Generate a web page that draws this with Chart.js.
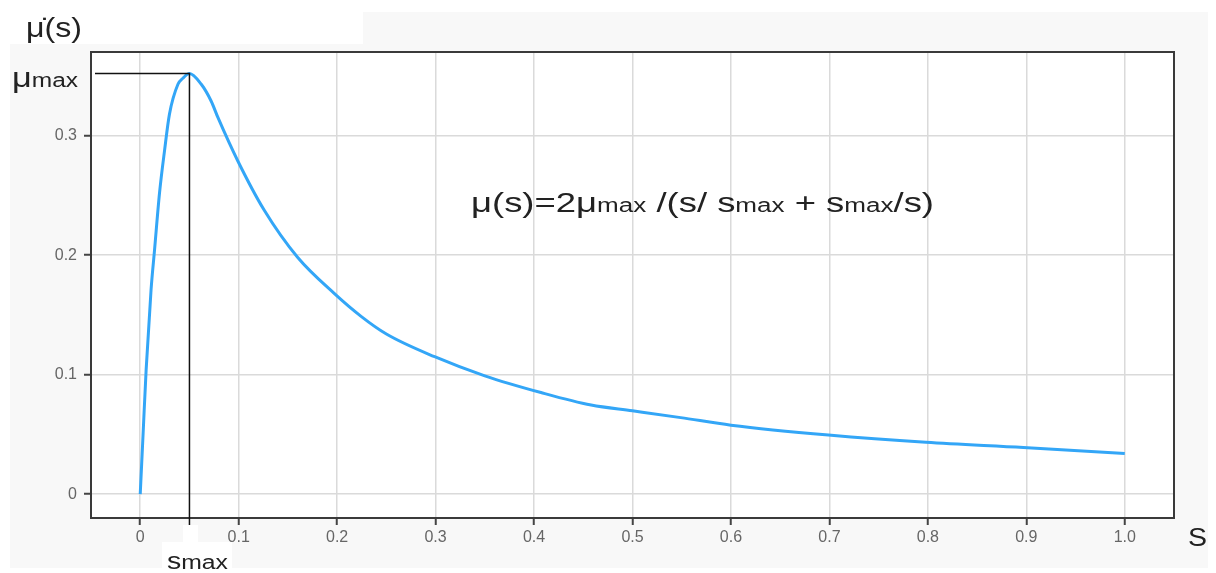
<!DOCTYPE html>
<html>
<head>
<meta charset="utf-8">
<script src="https://cdn.jsdelivr.net/npm/chart.js@4/dist/chart.umd.min.js"></script>
<style>
  html, body { margin: 0; padding: 0; background: #ffffff; }
  #chart { display: block; }
</style>
</head>
<body>
<canvas id="chart" width="1216" height="573"></canvas>
<script>
// curve points: s on x, mu on y
const sValues = [0, 0.003, 0.006, 0.011, 0.0145, 0.0196, 0.0247, 0.0297, 0.0383, 0.0433, 0.05,
  0.062, 0.072, 0.079, 0.099, 0.126, 0.16, 0.197, 0.224, 0.25, 0.299, 0.35, 0.407, 0.458,
  0.5, 0.549, 0.6, 0.699, 0.798, 0.897, 1.0];
const muValues = [0, 0.052, 0.104, 0.171, 0.204, 0.252, 0.2875, 0.318, 0.343, 0.348, 0.352,
  0.343, 0.329, 0.315, 0.279, 0.2375, 0.198, 0.168, 0.149, 0.134, 0.115, 0.099, 0.085, 0.0745,
  0.0697, 0.064, 0.0577, 0.0494, 0.0433, 0.039, 0.034];

// peak marker
const sMax = 0.05;
const muMax = 0.352;

// axes
const xTicks = [0, 0.1, 0.2, 0.3, 0.4, 0.5, 0.6, 0.7, 0.8, 0.9, 1.0];
const xTickLabels = ["0", "0.1", "0.2", "0.3", "0.4", "0.5", "0.6", "0.7", "0.8", "0.9", "1.0"];
const yTicks = [0, 0.1, 0.2, 0.3];
const yTickLabels = ["0", "0.1", "0.2", "0.3"];
const xRange = [-0.05, 1.05];
const yRange = [-0.02, 0.37];

const points = sValues.map((s, i) => ({ x: s, y: muValues[i] }));

Chart.defaults.font.family = "'Liberation Sans', Arial, sans-serif";

const FONT = "'Liberation Sans', Arial, sans-serif";

// draw a row of text pieces with different sizes on one baseline,
// stretched sideways to fill the given width
function drawRuns(ctx, x, baseline, runs, width, color) {
  let natural = 0;
  runs.forEach(([text, size]) => {
    ctx.font = size + "px " + FONT;
    natural += ctx.measureText(text).width;
  });
  const k = width ? width / natural : 1;
  ctx.save();
  ctx.translate(x, baseline);
  ctx.scale(k, 1);
  ctx.fillStyle = color;
  ctx.textBaseline = "alphabetic";
  ctx.textAlign = "left";
  let cx = 0;
  runs.forEach(([text, size]) => {
    ctx.font = size + "px " + FONT;
    ctx.fillText(text, cx, 0);
    cx += ctx.measureText(text).width;
  });
  ctx.restore();
}

const backdrop = {
  id: "backdrop",
  beforeDraw(chart) {
    const ctx = chart.ctx;
    const a = chart.chartArea;
    ctx.save();
    ctx.fillStyle = "#ffffff";
    ctx.fillRect(0, 0, chart.width, chart.height);
    ctx.fillStyle = "#f8f8f8";
    ctx.fillRect(10, 12, 1198, 556);
    ctx.fillStyle = "#ffffff";
    ctx.fillRect(0, 0, 363, 44);
    ctx.fillRect(a.left, a.top, a.right - a.left, a.bottom - a.top);
    // white patch behind the s_max label
    ctx.fillRect(162, 542, 70, 31);
    ctx.fillRect(183, 525, 15, 17);
    ctx.restore();
  }
};

const annotations = {
  id: "annotations",
  afterDraw(chart) {
    const ctx = chart.ctx;
    const a = chart.chartArea;
    const xs = chart.scales.x;
    const ys = chart.scales.y;
    ctx.save();

    // frame around the plot
    ctx.strokeStyle = "#3a3a3a";
    ctx.lineWidth = 2;
    ctx.strokeRect(a.left, a.top, a.right - a.left, a.bottom - a.top);

    // mu_max / s_max guide lines
    const px = xs.getPixelForValue(sMax);
    const py = ys.getPixelForValue(muMax);
    ctx.strokeStyle = "#111111";
    ctx.lineWidth = 1.5;
    ctx.beginPath();
    ctx.moveTo(a.left + 4, py);
    ctx.lineTo(px, py);
    ctx.lineTo(px, a.bottom + 7);
    ctx.stroke();

    const ink = "#222222";
    // y axis title
    drawRuns(ctx, 26, 37, [["\u03bc\u0307(s)", 27]], 56, ink);
    // mu_max label
    drawRuns(ctx, 12, 87, [["\u03bc", 28], ["max", 20]], 66, ink);
    // s_max label
    drawRuns(ctx, 167, 569, [["s", 23], ["max", 20]], 61, ink);
    // x axis title
    drawRuns(ctx, 1188, 546, [["S", 25]], 19, ink);
    // formula
    drawRuns(ctx, 471, 212, [
      ["\u03bc(s)=2\u03bc", 28], ["max", 20], [" /(s/ s", 28], ["max", 20],
      [" + s", 28], ["max", 20], ["/s)", 28]
    ], 463, ink);

    ctx.restore();
  }
};

new Chart(document.getElementById("chart"), {
  type: "scatter",
  data: {
    datasets: [{
      data: points,
      showLine: true,
      borderColor: "#33a6f7",
      borderWidth: 3,
      pointRadius: 0,
      cubicInterpolationMode: "monotone",
      fill: false
    }]
  },
  options: {
    responsive: false,
    animation: false,
    layout: { padding: { left: 0, top: 52, right: 42, bottom: 0 } },
    plugins: {
      legend: { display: false },
      tooltip: { enabled: false }
    },
    scales: {
      x: {
        type: "linear",
        min: xRange[0],
        max: xRange[1],
        afterBuildTicks: (scale) => { scale.ticks = xTicks.map((v) => ({ value: v })); },
        afterFit: (scale) => { scale.height = 55; },
        ticks: {
          callback: (v, i) => xTickLabels[i],
          color: "#666666",
          font: { size: 16 },
          padding: 3,
          maxRotation: 0,
          autoSkip: false
        },
        grid: { color: "#dadada", lineWidth: 1.5, tickColor: "#444444", tickLength: 7, tickWidth: 2 },
        border: { display: false }
      },
      y: {
        type: "linear",
        min: yRange[0],
        max: yRange[1],
        afterBuildTicks: (scale) => { scale.ticks = yTicks.map((v) => ({ value: v })); },
        afterFit: (scale) => { scale.width = 91; },
        ticks: {
          callback: (v, i) => yTickLabels[i],
          color: "#666666",
          font: { size: 16 },
          padding: 7
        },
        grid: { color: "#dadada", lineWidth: 1.5, tickColor: "#444444", tickLength: 7, tickWidth: 2 },
        border: { display: false }
      }
    }
  },
  plugins: [backdrop, annotations]
});
</script>
</body>
</html>
